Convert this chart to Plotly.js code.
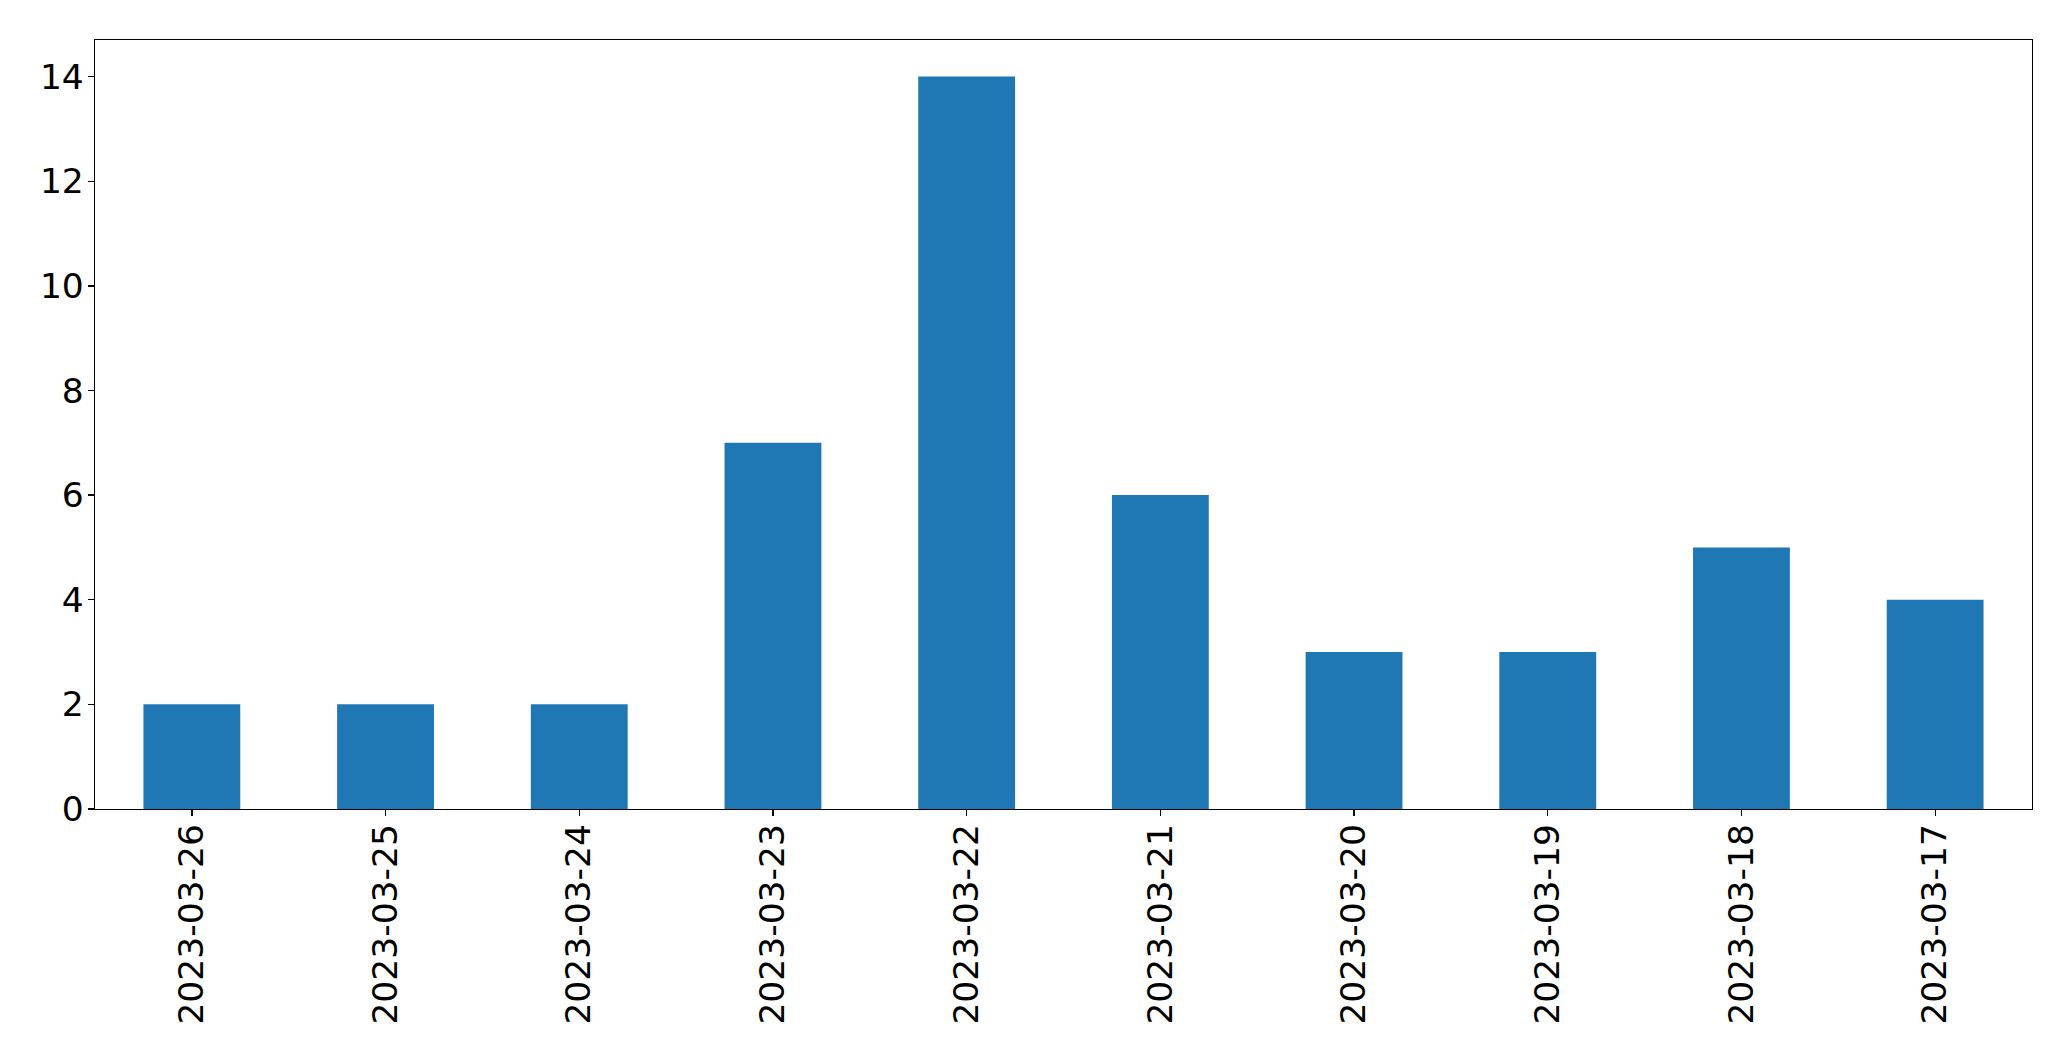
<!DOCTYPE html>
<html>
<head>
<meta charset="utf-8">
<script src="https://cdn.plot.ly/plotly-3.0.1.min.js"></script>
<style>html,body{margin:0;padding:0;background:#fff;}#chart{width:2071px;height:1061px;}</style>
</head>
<body>
<div id="chart"></div>
<script>
const categories = ["2023-03-26","2023-03-25","2023-03-24","2023-03-23","2023-03-22","2023-03-21","2023-03-20","2023-03-19","2023-03-18","2023-03-17"];
const counts = [2, 2, 2, 7, 14, 6, 3, 3, 5, 4];
const yTicks = [0, 2, 4, 6, 8, 10, 12, 14];

const trace = {
  type: 'bar',
  x: categories,
  y: counts,
  width: 0.5,
  marker: {color: '#1f77b4', line: {width: 0}},
  hoverinfo: 'x+y'
};

const font = {family: 'DejaVu Sans', size: 34.5, color: '#000'};

const layout = {
  width: 2071,
  height: 1061,
  margin: {l: 94.5, r: 39, t: 39.5, b: 252, pad: 0},
  paper_bgcolor: '#fff',
  plot_bgcolor: '#fff',
  showlegend: false,
  xaxis: {
    type: 'category',
    range: [-0.5, 9.5],
    showline: true, mirror: true, linecolor: '#000', linewidth: 1.3,
    showgrid: false, zeroline: false,
    ticks: '', tickangle: -90, tickfont: font,
    ticklabelstandoff: 0
  },
  yaxis: {
    range: [0, 14.7],
    tickvals: yTicks, ticktext: yTicks.map(String),
    showline: true, mirror: true, linecolor: '#000', linewidth: 1.3,
    showgrid: false, zeroline: false,
    ticks: '', tickfont: font,
    ticklabelstandoff: 3
  },
  xaxis2: {
    type: 'category', overlaying: 'x', matches: 'x', side: 'bottom', anchor: 'y',
    range: [-0.5, 9.5],
    showline: false, showgrid: false, zeroline: false,
    ticks: 'outside', ticklen: 6, tickwidth: 1.3, tickcolor: '#000',
    showticklabels: false
  },
  yaxis2: {
    overlaying: 'y', matches: 'y', side: 'left', anchor: 'x',
    range: [0, 14.7], tickvals: yTicks,
    showline: false, showgrid: false, zeroline: false,
    ticks: 'outside', ticklen: 6, tickwidth: 1.3, tickcolor: '#000',
    showticklabels: false
  }
};

const tickTrace = {
  type: 'bar', x: categories, y: counts, xaxis: 'x2', yaxis: 'y2',
  width: 0.5, marker: {color: 'rgba(0,0,0,0)'}, hoverinfo: 'skip', showlegend: false
};

Plotly.newPlot('chart', [trace, tickTrace], layout, {displayModeBar: false, staticPlot: true});
</script>
</body>
</html>
